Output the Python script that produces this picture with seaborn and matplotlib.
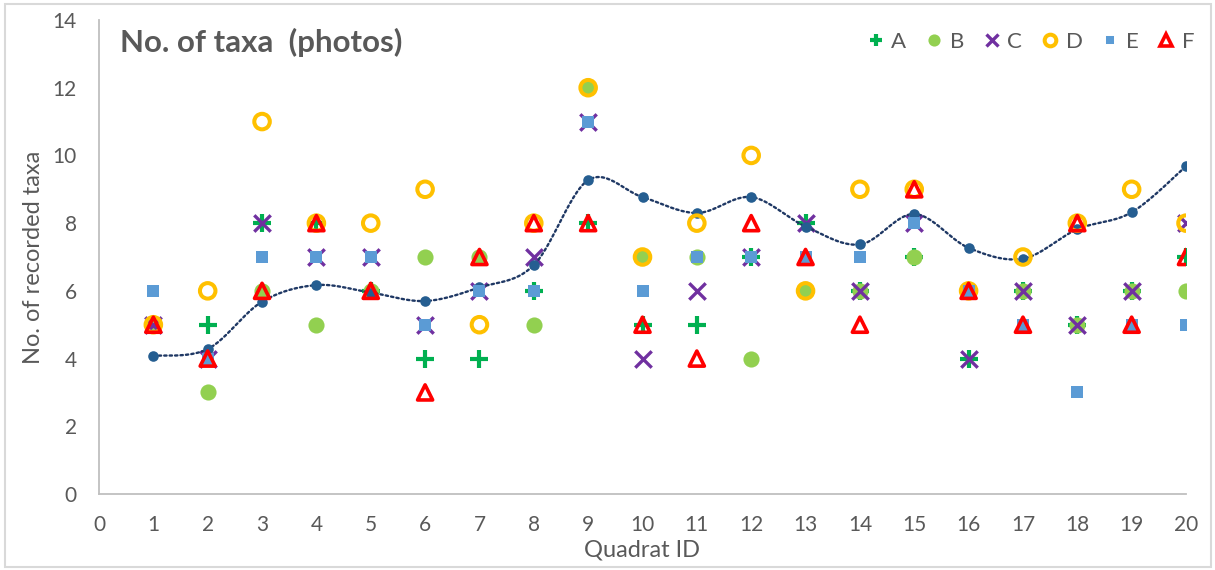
import numpy as np
import pandas as pd
import matplotlib
matplotlib.use("Agg")
import matplotlib.pyplot as plt
from matplotlib.lines import Line2D
from matplotlib.patches import Rectangle
import seaborn as sns

# ---------------- data ----------------
quadrat = list(range(1, 21))
taxa_A = [5, 5, 8, 8, 6, 4, 4, 6, 8, 5, 5, 7, 8, 6, 7, 4, 6, 5, 6, 7]
taxa_B = [5, 3, 6, 5, 6, 7, 7, 5, 12, 7, 7, 4, 6, 6, 7, 6, 6, 5, 6, 6]
taxa_C = [5, 4, 8, 7, 7, 5, 6, 7, 11, 4, 6, 7, 8, 6, 8, 4, 6, 5, 6, 8]
taxa_D = [5, 6, 11, 8, 8, 9, 5, 8, 12, 7, 8, 10, 6, 9, 9, 6, 7, 8, 9, 8]
taxa_E = [6, 4, 7, 7, 7, 5, 6, 6, 11, 6, 7, 7, 7, 7, 8, 6, 5, 3, 5, 5]
taxa_F = [5, 4, 6, 8, 6, 3, 7, 8, 8, 5, 4, 8, 7, 5, 9, 6, 5, 8, 5, 7]
taxa_mean = [4.08, 4.28, 5.68, 6.17, 5.95, 5.70, 6.10, 6.76, 9.27, 8.77,
             8.30, 8.77, 7.90, 7.37, 8.27, 7.27, 6.95, 7.82, 8.32, 9.68]
series_names = ["A", "B", "C", "D", "E", "F"]
x_ticks = list(range(0, 21))
y_ticks = list(range(0, 15, 2))

title_text = "No. of taxa  (photos)"
x_label = "Quadrat ID"
y_label = "No. of recorded taxa"

# ---------------- styling ----------------
sns.set_theme(style="white")
plt.rcParams["font.family"] = ["Lato", "DejaVu Sans"]
TXT = "#595959"

W, H = 1215, 570
fig = plt.figure(figsize=(W / 100, H / 100), dpi=100)
ax = fig.add_axes([99 / W, 1 - 494 / H, (1186 - 99) / W, (494 - 20) / H])

df = pd.DataFrame({"Quadrat": quadrat, "A": taxa_A, "B": taxa_B, "C": taxa_C,
                   "D": taxa_D, "E": taxa_E, "F": taxa_F, "Mean": taxa_mean})

styles = {
    "A": dict(marker="+", s=150, color="#00B050", linewidth=3.0, zorder=3),
    "B": dict(marker="o", s=135, color="#92D050", linewidth=0, zorder=4),
    "C": dict(marker="x", s=140, color="#7030A0", linewidth=2.4, zorder=5),
    "D": dict(marker="o", s=125, facecolor="none", edgecolor="#FFC000", linewidth=2.9, zorder=7),
    "E": dict(marker="s", s=66, color="#5B9BD5", linewidth=0, zorder=8),
    "F": dict(marker="^", s=118, facecolor="none", edgecolor="#FF0000", linewidth=2.6, zorder=9),
}

# smoothed mean line (Excel-like Bezier smoothing of the mean points)
def smooth(xs, ys, n=30):
    P = np.column_stack([xs, ys]).astype(float)
    out = []
    for i in range(len(P) - 1):
        p0 = P[i - 1] if i > 0 else P[i]
        p1, p2 = P[i], P[i + 1]
        p3 = P[i + 2] if i + 2 < len(P) else P[i + 1]
        c1 = p1 + (p2 - p0) / 6.0
        c2 = p2 - (p3 - p1) / 6.0
        t = np.linspace(0, 1, n)[:, None]
        seg = ((1 - t) ** 3) * p1 + 3 * ((1 - t) ** 2) * t * c1 + 3 * (1 - t) * t ** 2 * c2 + t ** 3 * p2
        out.append(seg if i == 0 else seg[1:])
    return np.vstack(out)

curve = smooth(df["Quadrat"], df["Mean"])
ax.plot(curve[:, 0], curve[:, 1], linestyle=(0, (1, 1.3)), linewidth=1.7,
        color="#1F3864", zorder=5.5, solid_capstyle="round", dash_capstyle="round")
sns.scatterplot(data=df, x="Quadrat", y="Mean", ax=ax, marker="o", s=58,
                color="#255E91", linewidth=0, zorder=6, legend=False)

for name in series_names:
    st = dict(styles[name])
    sns.scatterplot(data=df, x="Quadrat", y=name, ax=ax, legend=False, **st)

ax.set_xlim(0, 20)
ax.set_ylim(0, 14)
ax.set_xticks(x_ticks)
ax.set_yticks(y_ticks)
ax.tick_params(axis="both", length=0, labelsize=15, labelcolor=TXT)
ax.tick_params(axis="x", pad=15)
ax.tick_params(axis="y", pad=16)
for s in ["top", "right"]:
    ax.spines[s].set_visible(False)
for s in ["left", "bottom"]:
    ax.spines[s].set_color("#BFBFBF")
    ax.spines[s].set_linewidth(1.3)
ax.grid(False)

ax.set_xlabel(x_label, fontsize=17, color=TXT)
ax.set_ylabel(y_label, fontsize=17, color=TXT)
ax.xaxis.set_label_coords(0.5, -0.097)
ax.yaxis.set_label_coords(-0.051, 0.5)

ax.text(21 / 1087, (494 - 42) / 474, title_text, transform=ax.transAxes,
        fontsize=22.5, fontweight="bold", color=TXT, ha="left", va="center")

# legend
handles = []
for name in series_names:
    st = styles[name]
    ms = np.sqrt(st["s"]) * 0.75
    if st.get("facecolor") == "none":
        h = Line2D([], [], linestyle="none", marker=st["marker"], markersize=ms,
                   markerfacecolor="none", markeredgecolor=st["edgecolor"],
                   markeredgewidth=st["linewidth"])
    else:
        h = Line2D([], [], linestyle="none", marker=st["marker"], markersize=ms,
                   color=st["color"], markeredgewidth=max(st["linewidth"], 0.01))
    handles.append(h)
leg = ax.legend(handles, series_names, loc="center right",
                bbox_to_anchor=(1.018, (494 - 42) / 474), ncol=6, frameon=False,
                fontsize=16, handletextpad=0.2, columnspacing=0.75,
                handlelength=1.0, borderpad=0)
for t in leg.get_texts():
    t.set_color(TXT)

# outer chart border
fig.patches.append(Rectangle((5 / W, 3 / H), (W - 9) / W, (H - 7) / H,
                             transform=fig.transFigure, fill=False,
                             edgecolor="#D9D9D9", linewidth=1.5))

fig.savefig("out.png", dpi=100, facecolor="white")
